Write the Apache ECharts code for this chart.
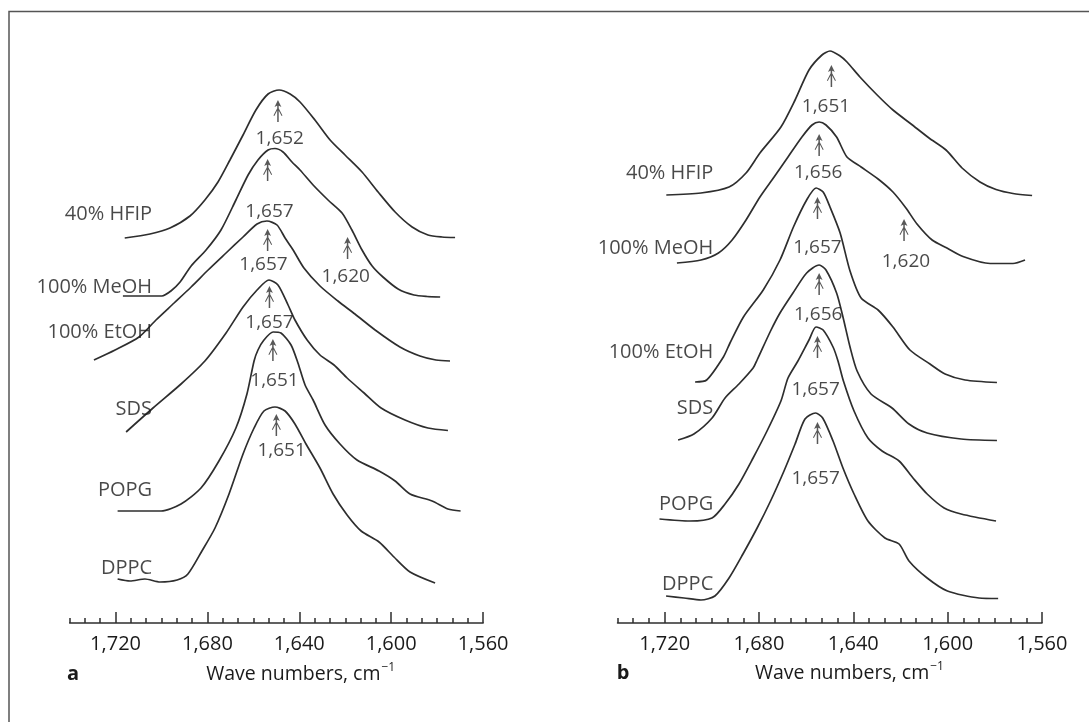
<!DOCTYPE html>
<html>
<head>
<meta charset="utf-8">
<script src="https://cdn.jsdelivr.net/npm/echarts@6/dist/echarts.min.js"></script>
<style>
html,body{margin:0;padding:0;background:#fff;}
#chart{width:1089px;height:722px;}
</style>
</head>
<body>
<div id="chart"></div>
<script>
// ---------- data (wave number, absorbance incl. stacking offset) ----------
const majorTicks = [1720, 1680, 1640, 1600, 1560];

// Panel a
const hfipA = [[1716,3.85],[1705,3.89],[1696.3,3.95],[1687.6,4.07],[1681.1,4.23],[1675.4,4.41],[1670.2,4.63],[1664.5,4.88],[1658.9,5.13],[1653.6,5.29],[1648.8,5.33],[1644,5.29],[1639.7,5.21],[1633.2,5.03],[1626.6,4.83],[1620.1,4.68],[1612.7,4.51],[1605.7,4.31],[1598.3,4.11],[1590.9,3.96],[1584,3.88],[1577.9,3.86],[1572.2,3.855]];
const meohA = [[1716.8,3.27],[1699.8,3.27],[1695.9,3.32],[1691.9,3.41],[1687.1,3.57],[1680.6,3.73],[1674.1,3.93],[1667.6,4.23],[1662.3,4.48],[1658,4.63],[1653.6,4.73],[1650.6,4.745],[1647.1,4.71],[1643.2,4.61],[1639.7,4.53],[1634,4.38],[1627.5,4.23],[1621.4,4.10],[1617.1,3.93],[1612.7,3.73],[1608.3,3.57],[1603.6,3.46],[1597,3.34],[1590.1,3.28],[1584.4,3.265],[1578.7,3.26]];
const etohA = [[1729.4,2.63],[1720.2,2.73],[1709.8,2.86],[1702.4,3.03],[1694.5,3.20],[1687.1,3.36],[1679.7,3.53],[1671.9,3.70],[1664.5,3.86],[1658.4,3.99],[1654.1,4.02],[1649.7,3.98],[1646.2,3.85],[1642.7,3.73],[1638,3.55],[1631,3.37],[1623.2,3.22],[1615.8,3.09],[1607,2.93],[1596.2,2.76],[1587.5,2.67],[1580.5,2.63],[1574.4,2.62]];
const sdsA = [[1715.4,1.91],[1703.7,2.15],[1691.5,2.39],[1681.1,2.62],[1671.9,2.90],[1664.5,3.16],[1658.4,3.33],[1653.2,3.43],[1649.3,3.38],[1644.9,3.18],[1641.9,3.03],[1636.6,2.83],[1631,2.68],[1624.9,2.58],[1619.2,2.45],[1611.8,2.30],[1604.4,2.15],[1594,2.03],[1584,1.95],[1575.3,1.925]];
const popgA = [[1719.1,1.12],[1700.2,1.12],[1691.5,1.19],[1682.8,1.35],[1675,1.62],[1667.6,1.95],[1662.8,2.29],[1659.7,2.62],[1658,2.73],[1655.4,2.83],[1651.4,2.91],[1648,2.90],[1643.6,2.78],[1640.6,2.60],[1637.5,2.38],[1634,2.23],[1628.8,1.98],[1622.3,1.79],[1614.9,1.63],[1605.3,1.52],[1598.3,1.42],[1591.8,1.29],[1582.2,1.22],[1575.3,1.14],[1569.8,1.12]];
const dppcA = [[1719.1,0.44],[1713.7,0.42],[1707.2,0.44],[1700.6,0.41],[1693.2,0.43],[1688.5,0.49],[1682.4,0.72],[1676.7,0.95],[1670.6,1.29],[1664.5,1.69],[1659.7,1.95],[1655.4,2.12],[1650.6,2.16],[1646.2,2.12],[1641.9,1.99],[1637.1,1.79],[1631,1.55],[1625.3,1.29],[1619.2,1.08],[1613.1,0.92],[1605.3,0.81],[1598.8,0.66],[1591.8,0.51],[1580.9,0.40]];

// Panel b
const hfipB = [[1719.3,4.28],[1704.6,4.30],[1692.7,4.36],[1685.5,4.50],[1679.6,4.70],[1670.7,4.96],[1664.7,5.23],[1658.8,5.53],[1653.3,5.68],[1649.9,5.72],[1645.6,5.67],[1642.7,5.61],[1637.2,5.46],[1629.9,5.28],[1623.2,5.13],[1615.5,4.99],[1607.9,4.85],[1600.7,4.73],[1593.9,4.55],[1586.3,4.41],[1579.5,4.335],[1572.3,4.295],[1564.2,4.275]];
const meohB = [[1714.8,3.60],[1704.6,3.63],[1697.2,3.70],[1691.4,3.83],[1685.5,4.03],[1679.6,4.26],[1673.6,4.46],[1667.7,4.66],[1661.8,4.86],[1657.5,4.98],[1654.5,5.01],[1651.6,4.98],[1647.1,4.86],[1642.7,4.66],[1636.7,4.56],[1629.5,4.44],[1623.2,4.31],[1617.7,4.15],[1613,3.99],[1606.6,3.83],[1600.3,3.75],[1593.5,3.665],[1582,3.595],[1572.3,3.595],[1567.2,3.63]];
const etohB = [[1707.1,2.41],[1702.2,2.43],[1695.1,2.66],[1692.3,2.80],[1686.6,3.06],[1678.2,3.33],[1671.1,3.63],[1665.4,3.96],[1659.8,4.23],[1655.8,4.35],[1652.8,4.31],[1649.9,4.16],[1645.6,3.90],[1641.4,3.52],[1636.7,3.25],[1629.5,3.13],[1623.2,2.96],[1616,2.73],[1607.5,2.59],[1601.1,2.49],[1592.6,2.43],[1579.1,2.405]];
const sdsB = [[1714.3,1.83],[1707.6,1.89],[1699.9,2.05],[1694.4,2.25],[1688.5,2.39],[1682.5,2.55],[1680.8,2.63],[1675.1,2.92],[1671.1,3.10],[1665.6,3.30],[1659.8,3.50],[1654.5,3.58],[1651.6,3.53],[1647.1,3.30],[1644.4,3.06],[1641.4,2.76],[1638.4,2.52],[1632.5,2.29],[1623.6,2.15],[1616.4,1.99],[1608.7,1.90],[1594.3,1.84],[1579.1,1.825]];
const popgB = [[1722.2,1.04],[1709.3,1.02],[1699.9,1.05],[1694.4,1.19],[1688.5,1.39],[1682.5,1.65],[1676.6,1.92],[1670.7,2.22],[1667.7,2.45],[1663.5,2.62],[1658.8,2.83],[1655.8,2.96],[1652.8,2.93],[1648.6,2.76],[1646.5,2.62],[1644.2,2.42],[1639.7,2.12],[1633.8,1.85],[1627.8,1.72],[1620.6,1.62],[1614.7,1.45],[1608.7,1.29],[1601.5,1.15],[1594.3,1.09],[1579.5,1.02]];
const dppcB = [[1719.4,0.27],[1711.8,0.25],[1704.6,0.23],[1698.7,0.27],[1692.7,0.45],[1686.8,0.69],[1680.8,0.95],[1675.1,1.22],[1669.4,1.52],[1664.7,1.79],[1660.5,2.04],[1656,2.10],[1653,2.05],[1648.6,1.82],[1644.4,1.55],[1639.7,1.29],[1633.8,1.02],[1626.6,0.85],[1620.6,0.79],[1616.4,0.62],[1608.7,0.45],[1600.1,0.32],[1586.7,0.25],[1578.6,0.245]];

// Peak arrows and peak labels [wave number, absorbance, text]
const arrowsA = [[1649.3,5.12],[1653.8,4.53],[1619.0,3.75],[1653.8,3.83],[1653.0,3.26],[1651.5,2.73],[1650.0,1.98]];
const peakLabelsA = [[1648.5,4.84,'1,652'],[1653.0,4.11,'1,657'],[1619.8,3.46,'1,620'],[1655.6,3.58,'1,657'],[1653.0,3.00,'1,657'],[1650.8,2.42,'1,651'],[1647.7,1.72,'1,651']];
const arrowsB = [[1649.3,5.47],[1654.5,4.78],[1655.2,4.15],[1618.5,3.93],[1654.5,3.39],[1655.2,2.76],[1655.2,1.90]];
const peakLabelsB = [[1651.6,5.16,'1,651'],[1654.9,4.50,'1,656'],[1655.2,3.75,'1,657'],[1617.7,3.61,'1,620'],[1654.9,3.08,'1,656'],[1656.0,2.33,'1,657'],[1656.0,1.44,'1,657']];

// Sample names [wave number of right edge, absorbance, text]
const namesA = [[1704.1,4.09,'40% HFIP'],[1704.1,3.36,'100% MeOH'],[1704.1,2.91,'100% EtOH'],[1704.1,2.14,'SDS'],[1704.1,1.33,'POPG'],[1704.1,0.55,'DPPC']];
const namesB = [[1699.4,4.50,'40% HFIP'],[1699.4,3.75,'100% MeOH'],[1699.4,2.71,'100% EtOH'],[1699.4,2.15,'SDS'],[1699.4,1.19,'POPG'],[1699.4,0.39,'DPPC']];

// ---------- chart ----------
const FONT = 'Open Sans';
const INK = '#2e2e2e';
const TXT = '#1a1a1a';
const minorTicks = [];
for (let k = 0; k <= 27; k++) minorTicks.push(1740 - k * 20 / 3);

const ARROW = 'path://M5 0L8.2 7.5L5 5.8L1.8 7.5ZM4.3 5L5.7 5L5.7 24L4.3 24ZM4.3 9L4.3 11.5L1.6 17.5L0.8 17ZM5.7 9L5.7 11.5L8.4 17.5L9.2 17Z';

function xAxes(gi) {
  const base = {
    gridIndex: gi, type: 'value', min: 1560, max: 1740, inverse: true, position: 'bottom',
    splitLine: {show: false}
  };
  return [
    Object.assign({}, base, {
      axisLine: {show: true, lineStyle: {color: INK, width: 1.5}},
      axisTick: {show: true, inside: true, length: 11, customValues: majorTicks, lineStyle: {color: INK, width: 1.5}},
      axisLabel: {show: true, customValues: majorTicks, margin: 11, color: TXT, fontFamily: FONT, fontSize: 20,
        formatter: v => Number(v).toLocaleString('en-US')}
    }),
    Object.assign({}, base, {
      axisLine: {show: false},
      axisTick: {show: true, inside: true, length: 5, customValues: minorTicks, lineStyle: {color: INK, width: 1.5}},
      axisLabel: {show: false}
    })
  ];
}

function curve(data, gi) {
  return {type: 'line', xAxisIndex: gi * 2, yAxisIndex: gi, data: data, showSymbol: false, symbol: 'none',
    smooth: 0.25, lineStyle: {color: INK, width: 1.7}, silent: true, z: 3};
}
function arrows(data, gi) {
  return {type: 'scatter', xAxisIndex: gi * 2, yAxisIndex: gi, data: data, symbol: ARROW, symbolSize: [9, 22],
    itemStyle: {color: INK}, silent: true, z: 4};
}
function texts(data, gi, pos, size) {
  return {type: 'scatter', xAxisIndex: gi * 2, yAxisIndex: gi, data: data, symbolSize: 0, silent: true, z: 5,
    label: {show: true, position: pos, distance: 0, formatter: p => p.data[2], color: TXT, fontFamily: FONT, fontSize: size}};
}

const chart = echarts.init(document.getElementById('chart'), null, {renderer: 'canvas'});
chart.setOption({
  animation: false,
  backgroundColor: '#fff',
  grid: [
    {left: 69.6, width: 413.5, top: 23, height: 600},
    {left: 617.5, width: 424.5, top: 23, height: 600}
  ],
  xAxis: xAxes(0).concat(xAxes(1)),
  yAxis: [
    {gridIndex: 0, type: 'value', min: 0, max: 6, show: false},
    {gridIndex: 1, type: 'value', min: 0, max: 6, show: false}
  ],
  series: [
    curve(hfipA, 0), curve(meohA, 0), curve(etohA, 0), curve(sdsA, 0), curve(popgA, 0), curve(dppcA, 0),
    curve(hfipB, 1), curve(meohB, 1), curve(etohB, 1), curve(sdsB, 1), curve(popgB, 1), curve(dppcB, 1),
    arrows(arrowsA, 0), arrows(arrowsB, 1),
    texts(peakLabelsA, 0, 'inside', 19), texts(peakLabelsB, 1, 'inside', 19),
    texts(namesA, 0, 'left', 20), texts(namesB, 1, 'left', 20)
  ],
  graphic: [
    {type: 'polyline', shape: {points: [[9, 722], [9, 11.5], [1089, 11.5]]}, style: {stroke: '#555', lineWidth: 1.5, fill: null}, silent: true},
    {type: 'text', x: 73, y: 674, style: {text: 'a', font: 'bold 20px "Open Sans"', fill: TXT, align: 'center', verticalAlign: 'middle'}},
    {type: 'text', x: 623, y: 673, style: {text: 'b', font: 'bold 20px "Open Sans"', fill: TXT, align: 'center', verticalAlign: 'middle'}},
    {type: 'text', x: 300.7, y: 674, style: {text: 'Wave numbers, cm{s|\u22121}', font: '19.5px "Open Sans"', fill: TXT, align: 'center', verticalAlign: 'middle',
      rich: {s: {fontSize: 12, fontFamily: FONT, fill: TXT, padding: [0, 0, 12, 1]}}}},
    {type: 'text', x: 849.5, y: 673, style: {text: 'Wave numbers, cm{s|\u22121}', font: '19.5px "Open Sans"', fill: TXT, align: 'center', verticalAlign: 'middle',
      rich: {s: {fontSize: 12, fontFamily: FONT, fill: TXT, padding: [0, 0, 12, 1]}}}}
  ]
});
</script>
</body>
</html>
